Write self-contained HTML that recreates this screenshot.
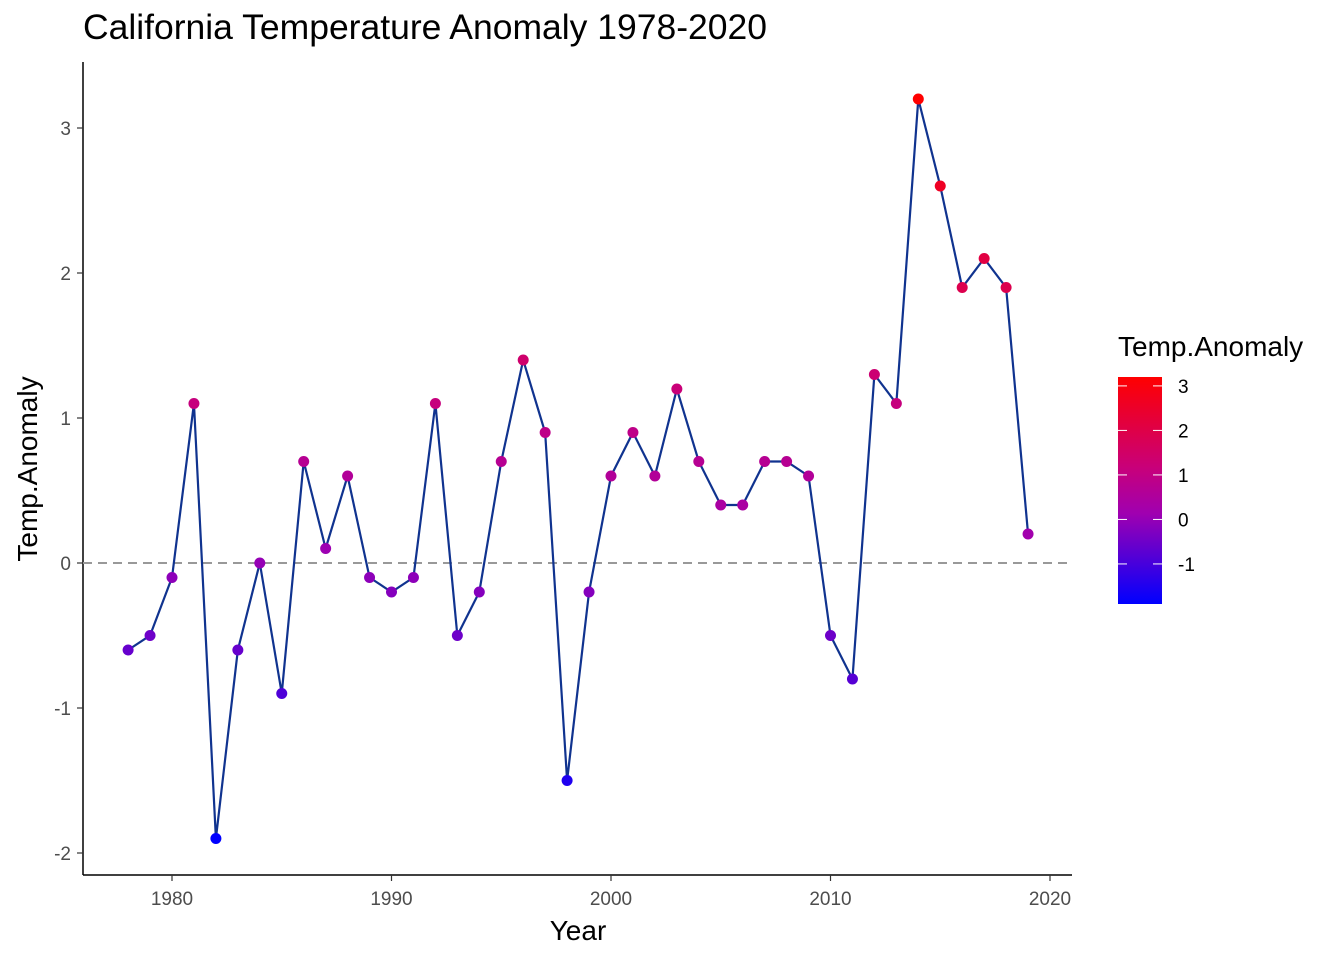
<!DOCTYPE html>
<html><head><meta charset="utf-8"><style>
body{margin:0;background:#fff;font-family:"Liberation Sans",Arial,sans-serif}
</style></head><body>
<svg id="chart" width="1344" height="960" xmlns="http://www.w3.org/2000/svg" font-family="Liberation Sans, Arial, sans-serif">
<defs><linearGradient id="lg" x1="0" y1="1" x2="0" y2="0">
<stop offset="0" stop-color="#0000FF"/><stop offset="0.4" stop-color="#A000B0"/><stop offset="0.6" stop-color="#C8007A"/><stop offset="1" stop-color="#FF0000"/></linearGradient></defs>
<text x="83" y="39" font-size="35" fill="#000" textLength="684" lengthAdjust="spacingAndGlyphs">California Temperature Anomaly 1978-2020</text>
<g id="plot"></g>
</svg>
<script>
const years=[1978,1979,1980,1981,1982,1983,1984,1985,1986,1987,1988,1989,1990,1991,1992,1993,1994,1995,1996,1997,1998,1999,2000,2001,2002,2003,2004,2005,2006,2007,2008,2009,2010,2011,2012,2013,2014,2015,2016,2017,2018,2019];
const anomalies=[-0.6,-0.5,-0.1,1.1,-1.9,-0.6,0.0,-0.9,0.7,0.1,0.6,-0.1,-0.2,-0.1,1.1,-0.5,-0.2,0.7,1.4,0.9,-1.5,-0.2,0.6,0.9,0.6,1.2,0.7,0.4,0.4,0.7,0.7,0.6,-0.5,-0.8,1.3,1.1,3.2,2.6,1.9,2.1,1.9,0.2];
const xTicks=[1980,1990,2000,2010,2020];
const yTicks=[-2,-1,0,1,2,3];
const legendTicks=[-1,0,1,2,3];

const NS="http://www.w3.org/2000/svg";
const g=document.getElementById('plot');
const X=v=>172+(v-1980)*(1050-172)/40;
const Y=v=>563-v*145;
function mk(t,a,p){const e=document.createElementNS(NS,t);for(const k in a)e.setAttribute(k,a[k]);(p||g).appendChild(e);return e;}
const mn=Math.min(...anomalies),mx=Math.max(...anomalies);
const stops=[[0,[0,0,255]],[0.4,[160,0,176]],[0.6,[200,0,122]],[1,[255,0,0]]];
function col(v){const t=(v-mn)/(mx-mn);for(let i=1;i<stops.length;i++){if(t<=stops[i][0]){const a=stops[i-1],b=stops[i],f=(t-a[0])/(b[0]-a[0]);const c=a[1].map((x,j)=>Math.round(x+(b[1][j]-x)*f));return `rgb(${c})`;}}return 'rgb(255,0,0)';}

let e;
e=mk('line',{x1:83,y1:62,x2:83,y2:875,stroke:'#000','stroke-width':1.5});

e=mk('line',{x1:83,y1:875,x2:1072,y2:875,stroke:'#000','stroke-width':1.5});

xTicks.forEach(v=>{
 e=mk('line',{x1:X(v),y1:875,x2:X(v),y2:881,stroke:'#333','stroke-width':1.2});
 
 e=mk('text',{x:X(v),y:905,'font-size':19,'text-anchor':'middle',fill:'#4d4d4d'});e.textContent=v;
 
});
yTicks.forEach(v=>{
 e=mk('line',{x1:77,y1:Y(v),x2:83,y2:Y(v),stroke:'#333','stroke-width':1.2});
 
 e=mk('text',{x:71,y:Y(v)+7,'font-size':19,'text-anchor':'end',fill:'#4d4d4d'});e.textContent=v;
 
});
e=mk('text',{x:578,y:940,'font-size':28,'text-anchor':'middle'});e.textContent='Year';

e=mk('text',{x:37,y:469,'font-size':28,'text-anchor':'middle',transform:'rotate(-90 37 469)'});e.textContent='Temp.Anomaly';

e=mk('line',{x1:83,y1:Y(0),x2:1072,y2:Y(0),stroke:'#999','stroke-width':2,'stroke-dasharray':'9,6'});

e=mk('polyline',{points:years.map((y,i)=>X(y)+','+Y(anomalies[i])).join(' '),fill:'none',stroke:'#10338F','stroke-width':2.2});

years.forEach((y,i)=>{
 e=mk('circle',{cx:X(y),cy:Y(anomalies[i]),r:5.5,fill:col(anomalies[i])});
 
});
const LY=v=>604-(v-mn)*(604-377)/(mx-mn);
e=mk('text',{x:1118,y:356,'font-size':28});e.textContent='Temp.Anomaly';

e=mk('rect',{x:1118,y:377,width:44,height:227,fill:'url(#lg)'});

legendTicks.forEach(v=>{
 e=mk('line',{x1:1118,y1:LY(v),x2:1127,y2:LY(v),stroke:'#fff','stroke-width':1});
 
 e=mk('line',{x1:1153,y1:LY(v),x2:1162,y2:LY(v),stroke:'#fff','stroke-width':1});
 
 e=mk('text',{x:1178,y:LY(v)+7,'font-size':19,fill:'#000'});e.textContent=v;
 
});
</script>
</body></html>
